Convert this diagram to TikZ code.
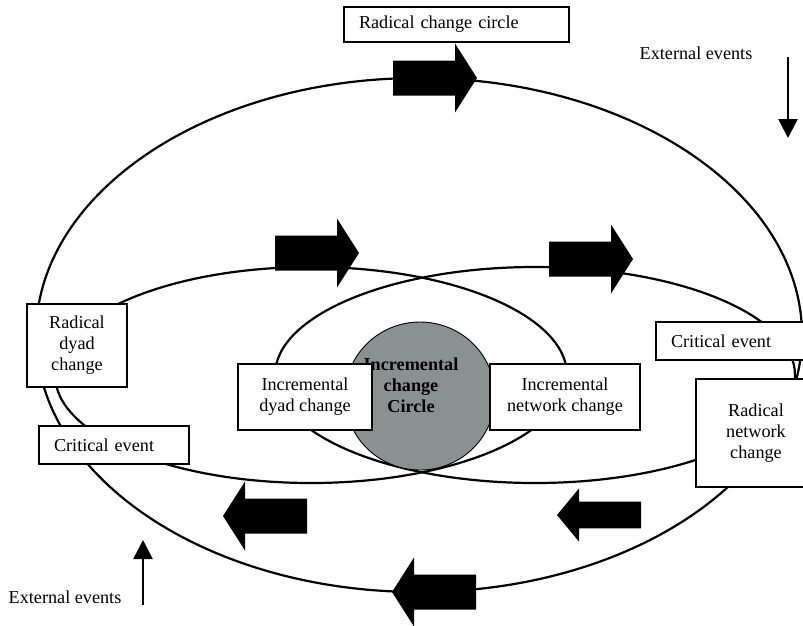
\documentclass[tikz,border=0pt]{standalone}
\usepackage{fontspec}
\setmainfont{Liberation Serif}
\usetikzlibrary{arrows.meta}
\definecolor{coregray}{RGB}{139,144,144}
\tikzset{
  loop/.style={line width=2.2pt},
  labelbox/.style={draw, fill=white, line width=1.3pt, inner sep=0pt, align=center,
    font=\fontsize{18.2}{21}\selectfont},
  plain/.style={font=\fontsize{18.2}{21}\selectfont, inner sep=0pt},
  extarrow/.style={line width=2.6pt, -{Triangle[length=19pt,width=19pt]}},
  blockarrow/.pic={
    \fill (0,0) -- (-22,-34.5) -- (-22,-17.5) -- (-84,-17.5) -- (-84,17.5)
      -- (-22,17.5) -- (-22,34.5) -- cycle;
  }
}
\begin{document}
\begin{tikzpicture}[x=1pt, y=-1pt]
  \useasboundingbox (0,0) rectangle (803,625);
  \clip (0,0) rectangle (803,625);

  % radical change loop and the two overlapping dyad / network loops
  \draw[loop] (419,335) ellipse [x radius=383pt, y radius=257pt];
  \draw[loop] (311,375) ellipse [x radius=256pt, y radius=108pt];
  \draw[loop] (535,375) ellipse [x radius=260pt, y radius=108pt];

  % incremental core
  \draw[fill=coregray, line width=0.9pt] (420,396) ellipse [x radius=75pt, y radius=74pt];
  \node[plain, align=center, font=\fontsize{18.2}{21}\selectfont\bfseries] (core) at (411,385)
    {Incremental\\change\\Circle};

  % direction of change along the loops
  \pic at (477,78) {blockarrow};
  \pic at (359,253) {blockarrow};
  \pic at (633,259) {blockarrow};
  \pic[xscale=-1] at (223,516) {blockarrow};
  \pic[xscale=-1, yscale=0.77] at (557,515) {blockarrow};
  \pic[xscale=-1] at (392,592) {blockarrow};

  % labels
  \node[labelbox, minimum width=225pt, minimum height=35pt, text width=195pt, align=left]
    (rcc) at (456.5,24.5) {\raisebox{-4pt}{Radical change circle}};
  \node[labelbox, minimum width=100pt, minimum height=83pt] (rdc) at (77,345.5)
    {Radical\\dyad\\change};
  \node[labelbox, minimum width=150pt, minimum height=38pt, text width=120pt, align=left]
    (cel) at (114,445) {Critical event};
  \node[labelbox, minimum width=150pt, minimum height=38pt, text width=120pt, align=left]
    (cer) at (731,341) {Critical event};
  \node[labelbox, minimum width=120pt, minimum height=108pt] (rnc) at (756,433)
    {Radical\\network\\change};
  \node[labelbox, minimum width=134pt, minimum height=66pt] (idc) at (305,397)
    {Incremental\\dyad change};
  \node[labelbox, minimum width=150pt, minimum height=66pt] (inc) at (565,397)
    {Incremental\\network change};

  % external events
  \node[plain] (ext1) at (696,53) {External events};
  \node[plain] (ext2) at (65,597) {External events};
  \coordinate (e1a) at (788,57);
  \coordinate (e1b) at (788,138);
  \coordinate (e2a) at (143,605);
  \coordinate (e2b) at (143,540);
  \draw[extarrow] (e1a) -- (e1b);
  \draw[extarrow] (e2a) -- (e2b);
\end{tikzpicture}
\end{document}
